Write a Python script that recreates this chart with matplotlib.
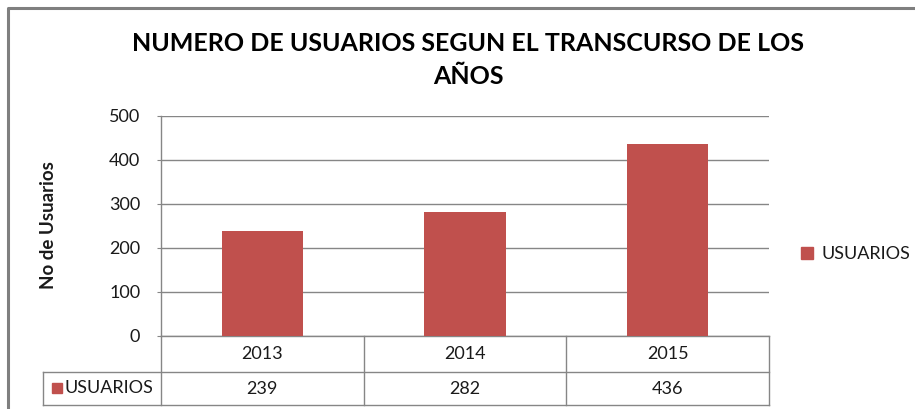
import matplotlib
matplotlib.use('Agg')
import matplotlib.pyplot as plt
import matplotlib.transforms as mtransforms
from matplotlib.patches import Patch, Rectangle
from matplotlib.lines import Line2D

# chart data
years = ['2013', '2014', '2015']
usuarios = [239, 282, 436]
series_name = 'USUARIOS'
title = 'NUMERO DE USUARIOS SEGUN EL TRANSCURSO DE LOS\nAÑOS'
ylabel = 'No de Usuarios'
yticks = [0, 100, 200, 300, 400, 500]

BAR = '#C0504D'
GRID = '#868686'
TXT = '#1a1a1a'
FS = 13

plt.rcParams['font.family'] = ['Lato', 'DejaVu Sans']

W, H = 915, 409
fig = plt.figure(figsize=(W / 100, H / 100), dpi=100)

def fx(px): return px / W
def fy(py): return 1 - py / H

# outer chart frame (right and bottom edges fall outside the picture)
fig.add_artist(Line2D([fx(8), fx(8), fx(915)], [fy(409), fy(8), fy(8)],
                      color='#7f7f7f', lw=2.2))

fig.text(fx(468), fy(60), title, ha='center', va='center', fontsize=18,
         fontweight='bold', linespacing=1.5, color='black')

ax = fig.add_axes([fx(161), fy(336), fx(769) - fx(161), (336 - 116) / H])
x = list(range(len(years)))
ax.bar(x, usuarios, width=0.4, color=BAR, zorder=3)
ax.set_xlim(-0.5, len(years) - 0.5)
ax.set_ylim(0, 500)
ax.set_yticks(yticks)
ax.set_xticks([])
ax.grid(axis='y', color=GRID, lw=1, zorder=0)
for s in ['top', 'right']:
    ax.spines[s].set_visible(False)
for s in ['left', 'bottom']:
    ax.spines[s].set_color(GRID)
    ax.spines[s].set_linewidth(1)
ax.tick_params(axis='y', length=3, color=GRID, pad=12, labelsize=FS, labelcolor=TXT)

fig.text(fx(49), fy(225), ylabel, rotation=90, ha='center', va='center',
         fontsize=13.5, fontweight='bold', color=TXT)

# data table under the axis
tr = mtransforms.blended_transform_factory(ax.transData, ax.transAxes)
ppu = (769 - 161) / len(years)          # pixels per category
r1 = -36 / 220
r2 = -69 / 220
xl = -0.5 - (161 - 43) / ppu
x_end = len(years) - 0.5
kw = dict(color=GRID, lw=1, transform=tr, clip_on=False)
ax.add_line(Line2D([xl, x_end], [r1, r1], **kw))
ax.add_line(Line2D([xl, x_end], [r2, r2], **kw))
ax.add_line(Line2D([xl, xl], [r1, r2], **kw))
for i in range(len(years) + 1):
    ax.add_line(Line2D([i - 0.5, i - 0.5], [0, r2], **kw))
for i, (yr, v) in enumerate(zip(years, usuarios)):
    ax.text(i, r1 / 2, yr, transform=tr, ha='center', va='center',
            fontsize=FS, color=TXT)
    ax.text(i, (r1 + r2) / 2, str(v), transform=tr, ha='center', va='center',
            fontsize=FS, color=TXT)
sq_y = -(388 - 336) / 220
ax.add_patch(Rectangle((-0.5 - (161 - 52) / ppu, sq_y - 5 / 220), 10 / ppu, 10 / 220,
                       color=BAR, transform=tr, clip_on=False))
ax.text(-0.5 - (161 - 65) / ppu, sq_y, series_name, transform=tr, ha='left',
        va='center', fontsize=FS, color=TXT)

# legend on the right
fig.legend(handles=[Patch(color=BAR, label=series_name)], loc='center left',
           bbox_to_anchor=(fx(801), fy(254)), frameon=False, borderpad=0,
           borderaxespad=0, handlelength=0.65, handleheight=0.65,
           handletextpad=0.5, fontsize=FS, labelcolor=TXT)

fig.savefig('out.png', dpi=100, facecolor='white')
